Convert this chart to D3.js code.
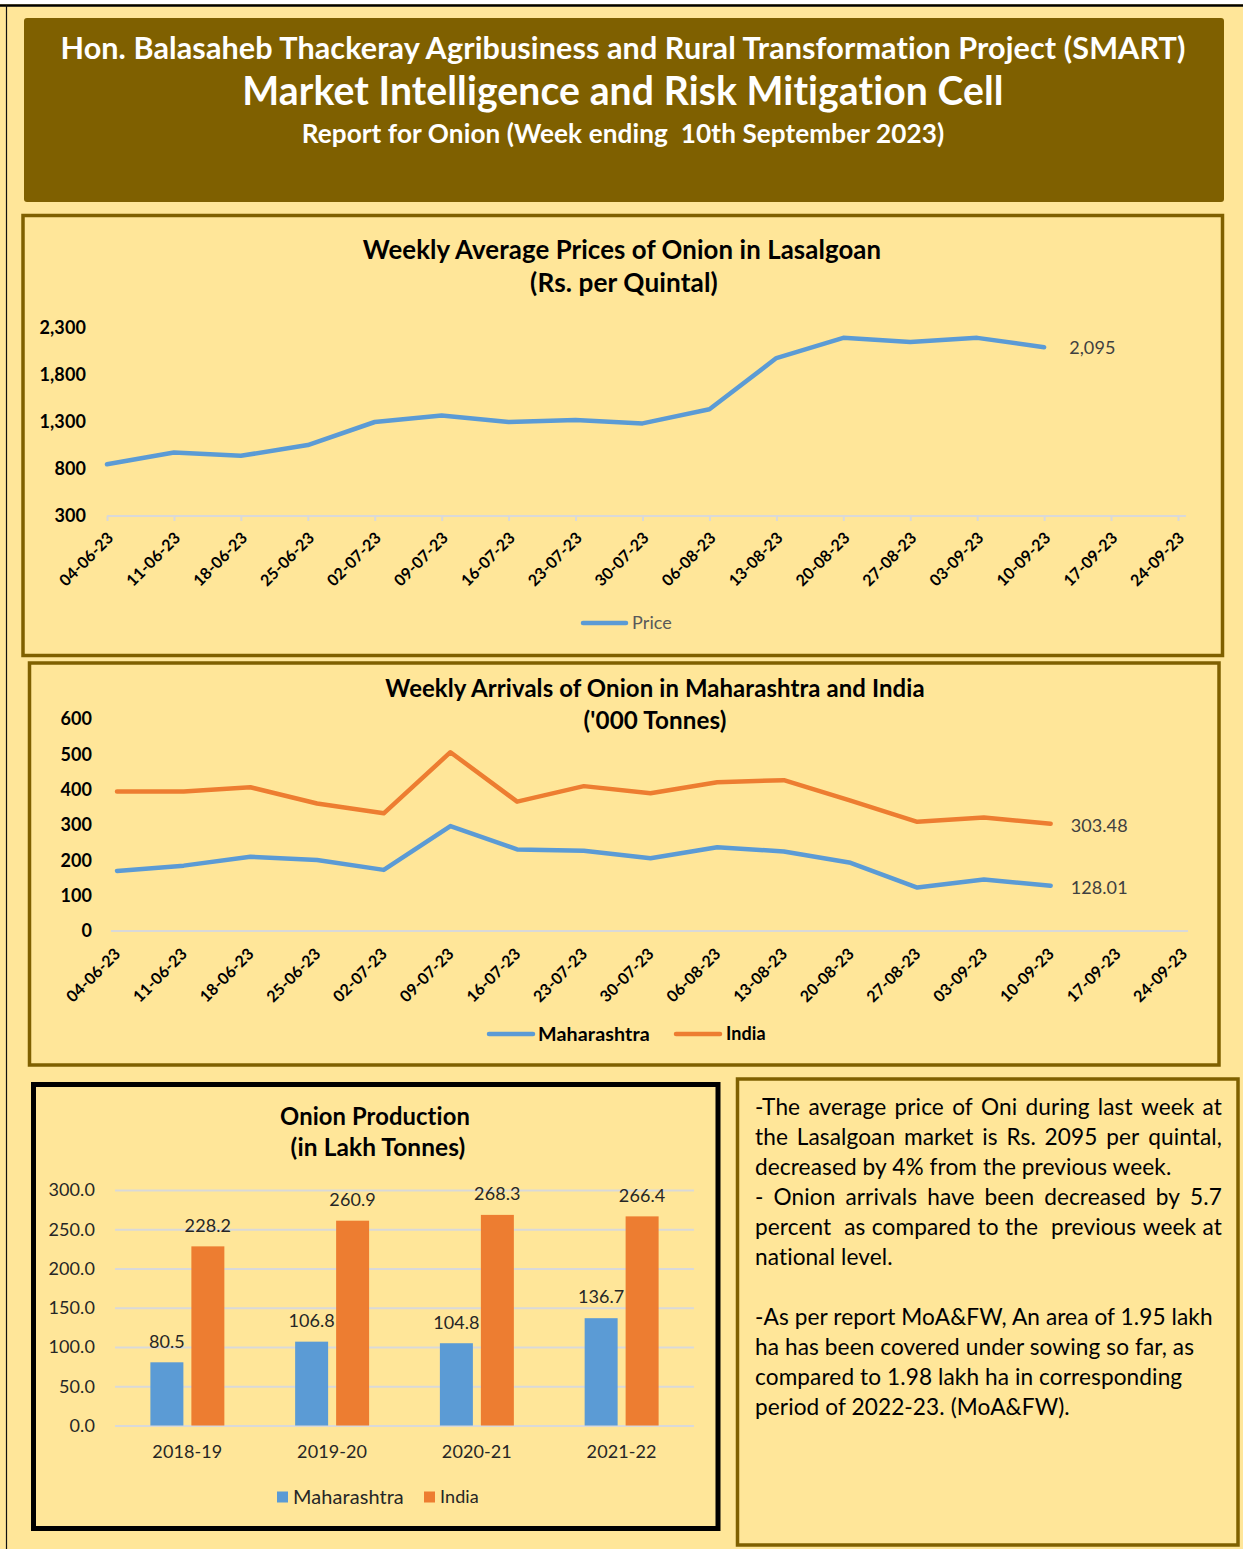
<!DOCTYPE html>
<html lang="en">
<head>
<meta charset="utf-8">
<title>Onion report</title>
<script src="https://d3js.org/d3.v7.min.js"></script>
<style>
  body { margin: 0; background: #ffffff; }
  svg { display: block; }
  text {
    font-family: Lato, "Open Sans", sans-serif;
    font-variant-ligatures: none;
    font-feature-settings: "liga" 0, "clig" 0;
    letter-spacing: 0.1px;
  }
</style>
</head>
<body>
<svg id="page" width="1243" height="1549"></svg>
<script>
// ---- data ----
const weeks = ['04-06-23','11-06-23','18-06-23','25-06-23','02-07-23','09-07-23','16-07-23','23-07-23',
               '30-07-23','06-08-23','13-08-23','20-08-23','27-08-23','03-09-23','10-09-23','17-09-23','24-09-23'];
const price = [850, 975, 940, 1055, 1300, 1370, 1300, 1320, 1285, 1435, 1980, 2195, 2150, 2195, 2095];
const priceTicks = [300, 800, 1300, 1800, 2300];

const mahArrivals = [170, 185, 210, 201, 173, 297, 231, 227, 206, 237, 225, 193, 123, 146, 128.01];
const indiaArrivals = [395, 395, 407, 361, 333, 506, 366, 410, 390, 421, 427, 369, 309, 321, 303.48];
const arrivalTicks = [0, 100, 200, 300, 400, 500, 600];

const years = ['2018-19', '2019-20', '2020-21', '2021-22'];
const mahProd = [80.5, 106.8, 104.8, 136.7];
const indiaProd = [228.2, 260.9, 268.3, 266.4];
const prodTicks = [0, 50, 100, 150, 200, 250, 300];

const notes = [
  ['-The average price of Oni during last week at', true],
  ['the Lasalgoan market is Rs. 2095 per quintal,', true],
  ['decreased by 4% from the previous week.', false],
  ['- Onion arrivals have been decreased by 5.7', true],
  ['percent  as compared to the  previous week at', true],
  ['national level.', false],
  ['', false],
  ['-As per report MoA&FW, An area of 1.95 lakh', false],
  ['ha has been covered under sowing so far, as', false],
  ['compared to 1.98 lakh ha in corresponding', false],
  ['period of 2022-23. (MoA&FW).', false]
];

// ---- style ----
const BG = '#FFE699', BROWN = '#7F6000', BLUE = '#5B9BD5', ORANGE = '#ED7D31';
const GRID = '#D9D9D9', DARK = '#262626', LABEL = '#404040';

const svg = d3.select('#page');

// scale font size so the text takes a given width
function fit(sel, width) {
  const fs = parseFloat(sel.attr('font-size'));
  const w = sel.node().getComputedTextLength();
  sel.attr('font-size', (fs * width / w).toFixed(2));
  return sel;
}

function label(parent, x, y, txt, size, weight, color, anchor) {
  return parent.append('text')
    .attr('x', x).attr('y', y)
    .attr('font-size', size)
    .attr('font-weight', weight || 'normal')
    .attr('fill', color || DARK)
    .attr('text-anchor', anchor || 'middle')
    .text(txt);
}

// page
svg.append('rect').attr('width', 1243).attr('height', 1549).attr('fill', BG);
svg.append('rect').attr('width', 1243).attr('height', 4).attr('fill', '#ffffff');
svg.append('line').attr('x1', 0).attr('x2', 1243).attr('y1', 5.5).attr('y2', 5.5)
  .attr('stroke', '#000').attr('stroke-width', 2.5);
svg.append('line').attr('x1', 6.5).attr('x2', 6.5).attr('y1', 5).attr('y2', 1549)
  .attr('stroke', '#111').attr('stroke-width', 1.2);

// header
svg.append('rect').attr('x', 24).attr('y', 18).attr('width', 1200).attr('height', 184)
  .attr('rx', 3).attr('fill', BROWN);
fit(label(svg, 623, 59, 'Hon. Balasaheb Thackeray Agribusiness and Rural Transformation Project (SMART)', 28, 'bold', '#fff'), 1126);
fit(label(svg, 623, 105, 'Market Intelligence and Risk Mitigation Cell', 36, 'bold', '#fff'), 762);
fit(label(svg, 623, 143, 'Report for Onion (Week ending  10th September 2023)', 24, 'bold', '#fff'), 637)
  .style('white-space', 'pre');

// panel frames
svg.append('rect').attr('x', 23).attr('y', 215.5).attr('width', 1199.5).attr('height', 440)
  .attr('fill', 'none').attr('stroke', BROWN).attr('stroke-width', 3.5);
svg.append('rect').attr('x', 29.5).attr('y', 663).attr('width', 1189.5).attr('height', 402)
  .attr('fill', 'none').attr('stroke', BROWN).attr('stroke-width', 3.5);
svg.append('rect').attr('x', 33.5).attr('y', 1084.5).attr('width', 684.5).attr('height', 444)
  .attr('fill', 'none').attr('stroke', '#000').attr('stroke-width', 5);
svg.append('rect').attr('x', 737.5).attr('y', 1079).attr('width', 500.5).attr('height', 466)
  .attr('fill', 'none').attr('stroke', BROWN).attr('stroke-width', 3.5);

// rotated date labels under a point scale
function dateAxis(g, x, y0, tickLen, shift) {
  const ax = g.append('g').attr('transform', `translate(0,${y0})`)
    .call(d3.axisBottom(x).tickSize(tickLen).tickSizeOuter(0));
  ax.select('.domain').remove();
  ax.selectAll('.tick line').attr('stroke', GRID).attr('stroke-width', 2);
  ax.selectAll('.tick text')
    .attr('x', 0).attr('y', 0).attr('dy', '0.35em')
    .attr('transform', `translate(${shift[0]},${shift[1]}) rotate(-45)`)
    .attr('text-anchor', 'end')
    .attr('font-size', 16).attr('font-weight', 'bold')
    .attr('font-family', 'Lato, sans-serif')
    .attr('fill', '#000');
  return ax;
}

function valueAxis(g, y, x0, ticks, fmt, weight, pad) {
  const ax = g.append('g').attr('transform', `translate(${x0},0)`)
    .call(d3.axisLeft(y).tickValues(ticks).tickFormat(fmt).tickSize(0).tickPadding(pad));
  ax.select('.domain').remove();
  ax.selectAll('.tick text')
    .attr('font-size', 18).attr('font-weight', weight)
    .attr('font-family', 'Lato, sans-serif')
    .attr('fill', '#000');
  return ax;
}

// ---- chart 1: weekly prices ----
const c1 = svg.append('g');
fit(label(c1, 622, 259, 'Weekly Average Prices of Onion in Lasalgoan', 24, 'bold', '#000'), 519);
fit(label(c1, 624, 292, '(Rs. per Quintal)', 24, 'bold', '#000'), 188);

const x1 = d3.scalePoint().domain(weeks).range([107, 1178]);
const y1 = d3.scaleLinear().domain([300, 2300]).range([516, 328]);

valueAxis(c1, y1, 96, priceTicks, d3.format(','), 'bold', 10);
c1.append('line').attr('x1', x1.range()[0]).attr('x2', x1.range()[1] + 8)
  .attr('y1', y1(300)).attr('y2', y1(300)).attr('stroke', GRID).attr('stroke-width', 2);
dateAxis(c1, x1, y1(300), 5, [3, 19]);

const line1 = d3.line().x((d, i) => x1(weeks[i])).y(d => y1(d));
c1.append('path').datum(price).attr('d', line1)
  .attr('fill', 'none').attr('stroke', BLUE).attr('stroke-width', 4.5)
  .attr('stroke-linejoin', 'round').attr('stroke-linecap', 'round');
const lastP = price.length - 1;
label(c1, x1(weeks[lastP]) + 25, y1(price[lastP]), d3.format(',')(price[lastP]), 18, 'normal', LABEL, 'start')
  .attr('dy', '0.35em');

// legend
c1.append('line').attr('x1', 583).attr('x2', 626).attr('y1', 623).attr('y2', 623)
  .attr('stroke', BLUE).attr('stroke-width', 4.5).attr('stroke-linecap', 'round');
label(c1, 632, 623, 'Price', 18, 'normal', '#595959', 'start').attr('dy', '0.35em');

// ---- chart 2: weekly arrivals ----
const c2 = svg.append('g');
fit(label(c2, 655, 697, 'Weekly Arrivals of Onion in Maharashtra and India', 22, 'bold', '#000'), 540);
fit(label(c2, 655, 729, "('000 Tonnes)", 22, 'bold', '#000'), 143);

const x2 = d3.scalePoint().domain(weeks).range([117, 1184]);
const y2 = d3.scaleLinear().domain([0, 600]).range([931, 719]);

valueAxis(c2, y2, 102, arrivalTicks, d3.format('d'), 'bold', 10);
c2.append('line').attr('x1', x2.range()[0] - 6).attr('x2', x2.range()[1] + 4)
  .attr('y1', y2(0)).attr('y2', y2(0)).attr('stroke', GRID).attr('stroke-width', 2);
dateAxis(c2, x2, y2(0), 0, [0, 20]);

const line2 = d3.line().x((d, i) => x2(weeks[i])).y(d => y2(d));
[[indiaArrivals, ORANGE], [mahArrivals, BLUE]].forEach(([vals, col]) => {
  c2.append('path').datum(vals).attr('d', line2)
    .attr('fill', 'none').attr('stroke', col).attr('stroke-width', 4.5)
    .attr('stroke-linejoin', 'round').attr('stroke-linecap', 'round');
  const k = vals.length - 1;
  label(c2, x2(weeks[k]) + 20, y2(vals[k]) + 2, d3.format('.2f')(vals[k]), 18, 'normal', LABEL, 'start')
    .attr('dy', '0.35em');
});

// legend
c2.append('line').attr('x1', 489).attr('x2', 533).attr('y1', 1034).attr('y2', 1034)
  .attr('stroke', BLUE).attr('stroke-width', 4.5).attr('stroke-linecap', 'round');
fit(label(c2, 538, 1034, 'Maharashtra', 18, 'bold', '#000', 'start').attr('dy', '0.35em'), 112);
c2.append('line').attr('x1', 676).attr('x2', 720).attr('y1', 1034).attr('y2', 1034)
  .attr('stroke', ORANGE).attr('stroke-width', 4.5).attr('stroke-linecap', 'round');
label(c2, 726, 1034, 'India', 18, 'bold', '#000', 'start').attr('dy', '0.35em');

// ---- chart 3: production bars ----
const c3 = svg.append('g');
fit(label(c3, 375, 1125, 'Onion Production', 22, 'bold', '#000'), 190);
fit(label(c3, 378, 1156, '(in Lakh Tonnes)', 22, 'bold', '#000'), 175);

const x3 = d3.scaleBand().domain(years).range([115, 694]).paddingInner(0.489).paddingOuter(0.2445);
const xs = d3.scaleBand().domain(['Maharashtra', 'India']).range([0, x3.bandwidth()]).paddingInner(0.195);
const y3 = d3.scaleLinear().domain([0, 300]).range([1425.5, 1190]);

const grid = c3.append('g').attr('transform', 'translate(115,0)')
  .call(d3.axisLeft(y3).tickValues(prodTicks).tickFormat(d3.format('.1f'))
    .tickSize(-(694 - 115)).tickPadding(20));
grid.select('.domain').remove();
grid.selectAll('.tick line').attr('stroke', GRID).attr('stroke-width', 2);
grid.selectAll('.tick text').attr('font-size', 18).attr('font-family', 'Lato, sans-serif').attr('fill', DARK);

const xa = c3.append('g').attr('transform', `translate(0,${y3(0)})`)
  .call(d3.axisBottom(x3).tickSize(0).tickPadding(0));
xa.select('.domain').remove();
xa.selectAll('.tick text').attr('y', 26).attr('dy', '0.35em')
  .attr('font-size', 18).attr('font-family', 'Lato, sans-serif').attr('fill', DARK);

const prodRows = years.map((yr, i) => ({ yr, vals: [['Maharashtra', mahProd[i], BLUE], ['India', indiaProd[i], ORANGE]] }));
const groups = c3.selectAll('g.grp').data(prodRows).enter().append('g')
  .attr('class', 'grp').attr('transform', d => `translate(${x3(d.yr)},0)`);
groups.selectAll('rect').data(d => d.vals).enter().append('rect')
  .attr('x', d => xs(d[0])).attr('width', xs.bandwidth())
  .attr('y', d => y3(d[1])).attr('height', d => y3(0) - y3(d[1]))
  .attr('fill', d => d[2]);
groups.selectAll('text.val').data(d => d.vals).enter().append('text')
  .attr('class', 'val')
  .attr('x', d => xs(d[0]) + xs.bandwidth() / 2)
  .attr('y', d => y3(d[1]) - 21).attr('dy', '0.35em')
  .attr('text-anchor', 'middle').attr('font-size', 18).attr('fill', DARK)
  .text(d => d3.format('.1f')(d[1]));

// legend
c3.append('rect').attr('x', 277).attr('y', 1491.5).attr('width', 11).attr('height', 11).attr('fill', BLUE);
fit(label(c3, 293, 1497, 'Maharashtra', 18, 'normal', DARK, 'start').attr('dy', '0.35em'), 111);
c3.append('rect').attr('x', 424).attr('y', 1491.5).attr('width', 11).attr('height', 11).attr('fill', ORANGE);
label(c3, 440, 1497, 'India', 18, 'normal', DARK, 'start').attr('dy', '0.35em');

// ---- notes box ----
const nb = svg.append('g');
const probe = label(nb, 755, 0, notes[2][0], 20, 'normal', '#000', 'start');
fit(probe, 417);
const noteSize = parseFloat(probe.attr('font-size'));

// word widths measured on the probe element, one at a time
function wordWidth(w) {
  probe.text(w);
  return probe.node().getComputedTextLength();
}

notes.forEach(([txt, justify], i) => {
  if (!txt) return;
  const yy = 1115 + i * 30;
  if (!justify) {
    label(nb, 755, yy, txt, noteSize, 'normal', '#000', 'start').style('white-space', 'pre');
    return;
  }
  // empty tokens (double spaces) just add one more gap
  const tokens = txt.split(' ');
  const widths = tokens.map(w => (w ? wordWidth(w) : 0));
  const gap = (1222 - 755 - d3.sum(widths)) / (tokens.length - 1);
  let xx = 755;
  tokens.forEach((w, j) => {
    if (w) label(nb, xx, yy, w, noteSize, 'normal', '#000', 'start');
    xx += widths[j] + gap;
  });
});
probe.remove();
</script>
</body>
</html>
